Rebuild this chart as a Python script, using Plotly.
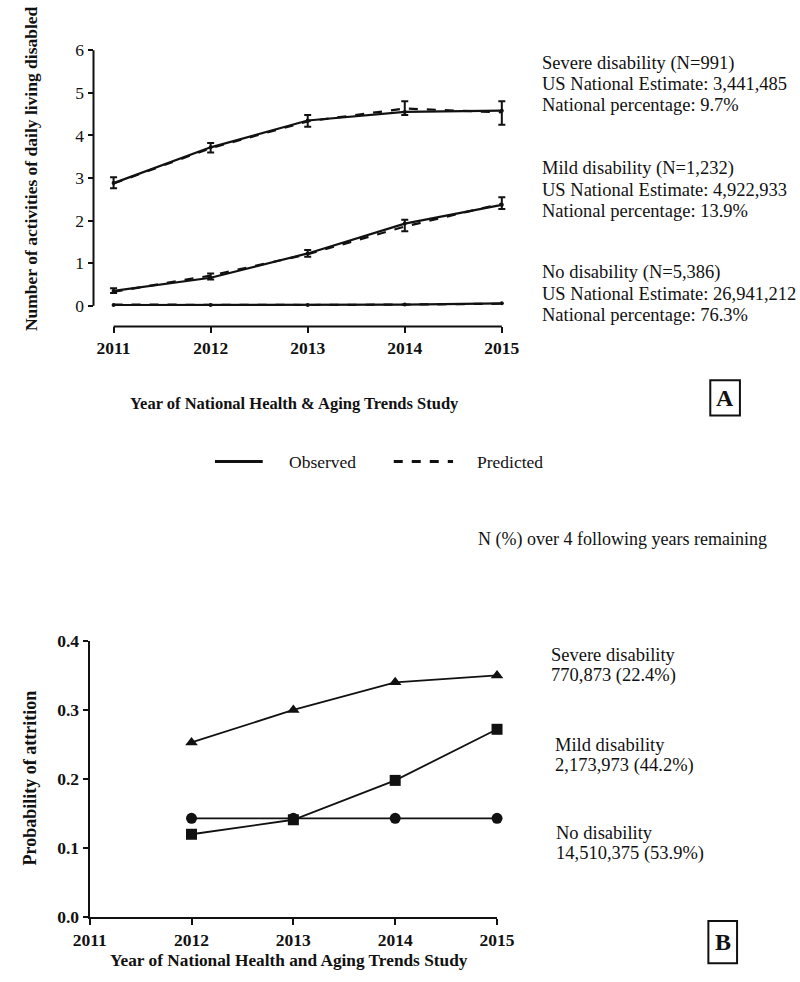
import plotly.graph_objects as go

W, H = 800, 982

# ---------------- Data ----------------
years_a = [2011, 2012, 2013, 2014, 2015]
severe_obs = [2.88, 3.72, 4.35, 4.55, 4.58]
severe_pred = [2.87, 3.70, 4.33, 4.63, 4.54]
severe_upper = [3.02, 3.82, 4.48, 4.80, 4.80]
severe_lower = [2.76, 3.60, 4.20, 4.48, 4.25]
mild_obs = [0.35, 0.66, 1.23, 1.93, 2.37]
mild_pred = [0.33, 0.71, 1.21, 1.86, 2.40]
mild_upper = [0.41, 0.76, 1.31, 2.02, 2.55]
mild_lower = [0.30, 0.62, 1.15, 1.75, 2.27]
none_obs = [0.02, 0.02, 0.02, 0.03, 0.06]
none_pred = [0.03, 0.02, 0.02, 0.03, 0.05]

years_b = [2012, 2013, 2014, 2015]
attr_severe = [0.253, 0.300, 0.340, 0.350]
attr_mild = [0.120, 0.141, 0.198, 0.272]
attr_none = [0.143, 0.143, 0.143, 0.143]

xticks_a = [2011, 2012, 2013, 2014, 2015]
yticks_a = [0, 1, 2, 3, 4, 5, 6]
xticks_b = [2011, 2012, 2013, 2014, 2015]
yticks_b = [0.0, 0.1, 0.2, 0.3, 0.4]

top_notes = [
    ["Severe disability (N=991)", "US National Estimate: 3,441,485", "National percentage: 9.7%"],
    ["Mild disability (N=1,232)", "US National Estimate: 4,922,933", "National percentage: 13.9%"],
    ["No disability (N=5,386)", "US National Estimate: 26,941,212", "National percentage: 76.3%"],
]
bottom_notes = [
    ["Severe disability", "770,873 (22.4%)"],
    ["Mild disability", "2,173,973 (44.2%)"],
    ["No disability", "14,510,375 (53.9%)"],
]

SERIF = "Liberation Serif, Times New Roman, serif"
BLACK = "#111111"


def px(x):
    return x / W


def py(y):
    return 1 - y / H


# ---------------- Geometry ----------------
a_left, a_right = 80, 520
a_x2011, a_x2015 = 101, 507
a_ppy = (a_x2015 - a_x2011) / 4.0
a_y0, a_y6 = 302, 41
a_ppu = (a_y0 - a_y6) / 6.0
a_bottom = 323
a_xrange = [2011 - (a_x2011 - a_left) / a_ppy, 2015 + (a_right - a_x2015) / a_ppy]
a_top_val = 6.02
a_yrange = [-(a_bottom - a_y0) / a_ppu, a_top_val]
a_top_px = a_y0 - a_top_val * a_ppu

b_left, b_right = 76, 502
b_top, b_bottom = 644, 926

fig = go.Figure()


def errs(obs, up, lo):
    return [u - o for u, o in zip(up, obs)], [o - l for o, l in zip(obs, lo)]


groups = [
    (severe_obs, severe_pred, severe_upper, severe_lower),
    (mild_obs, mild_pred, mild_upper, mild_lower),
    (none_obs, none_pred, None, None),
]
for obs, pred, up, lo in groups:
    fig.add_trace(go.Scatter(
        x=years_a, y=pred, mode="lines", xaxis="x", yaxis="y",
        line=dict(color=BLACK, width=2.2, dash="dash"), showlegend=False))
    tr = dict(x=years_a, y=obs, mode="lines+markers", xaxis="x", yaxis="y",
              line=dict(color=BLACK, width=2.2),
              marker=dict(color=BLACK, size=4), showlegend=False)
    if up is not None:
        p, m = errs(obs, up, lo)
        tr["error_y"] = dict(type="data", symmetric=False, array=p, arrayminus=m,
                             color=BLACK, thickness=2, width=3.5)
    fig.add_trace(go.Scatter(**tr))

for vals, sym, sz in [(attr_severe, "triangle-up", 11), (attr_mild, "square", 11),
                      (attr_none, "circle", 11)]:
    fig.add_trace(go.Scatter(
        x=years_b, y=vals, mode="lines+markers", xaxis="x2", yaxis="y2",
        line=dict(color=BLACK, width=1.8),
        marker=dict(color=BLACK, size=sz, symbol=sym),
        cliponaxis=False, showlegend=False))

fig.update_layout(
    width=W, height=H,
    margin=dict(l=0, r=0, t=0, b=0),
    paper_bgcolor="white", plot_bgcolor="white",
    showlegend=False,
    font=dict(family=SERIF, color=BLACK),
    xaxis=dict(domain=[px(a_left), px(a_right)], range=a_xrange, anchor="y",
               tickvals=xticks_a, ticktext=[str(v) for v in xticks_a],
               ticks="outside", ticklen=6, tickwidth=2, tickcolor=BLACK,
               showline=False, showgrid=False, zeroline=False,
               tickfont=dict(family=SERIF, size=17.5, color=BLACK, weight="bold")),
    yaxis=dict(domain=[py(a_bottom), py(a_top_px)], range=a_yrange, anchor="x",
               tickvals=yticks_a, ticks="outside", ticklen=5, tickwidth=2,
               tickcolor=BLACK, showline=False, showgrid=False, zeroline=False,
               tickfont=dict(family=SERIF, size=17.5, color=BLACK)),
    xaxis2=dict(domain=[px(b_left), px(b_right)], range=[2011, 2015], anchor="y2",
                tickvals=xticks_b, ticktext=[str(v) for v in xticks_b],
                ticks="outside", ticklen=6, tickwidth=2, tickcolor=BLACK,
                showline=True, linecolor=BLACK, linewidth=2.2,
                showgrid=False, zeroline=False,
                tickfont=dict(family=SERIF, size=17.5, color=BLACK, weight="bold")),
    yaxis2=dict(domain=[py(b_bottom), py(b_top)], range=[0, 0.4], anchor="x2",
                tickvals=yticks_b, ticktext=["%.1f" % v for v in yticks_b],
                ticks="outside", ticklen=5, tickwidth=2, tickcolor=BLACK,
                showline=True, linecolor=BLACK, linewidth=2.2,
                showgrid=False, zeroline=False,
                tickfont=dict(family=SERIF, size=17.5, color=BLACK, weight="bold")),
)

shapes = []
# Panel A offset axis lines (GraphPad style)
shapes.append(dict(type="line", xref="paper", yref="y", x0=px(a_left), x1=px(a_left),
                   y0=0, y1=6, line=dict(color=BLACK, width=2)))
shapes.append(dict(type="line", xref="x", yref="paper", x0=2011, x1=2015,
                   y0=py(a_bottom), y1=py(a_bottom), line=dict(color=BLACK, width=2)))
# Legend samples
shapes.append(dict(type="line", xref="paper", yref="paper", x0=px(207), x1=px(257),
                   y0=py(461), y1=py(461), line=dict(color=BLACK, width=3)))
shapes.append(dict(type="line", xref="paper", yref="paper", x0=px(394), x1=px(456),
                   y0=py(461), y1=py(461), line=dict(color=BLACK, width=3, dash="dash")))
# Panel label boxes
shapes.append(dict(type="rect", xref="paper", yref="paper", x0=px(725), x1=px(756),
                   y0=py(414), y1=py(378), line=dict(color=BLACK, width=2)))
shapes.append(dict(type="rect", xref="paper", yref="paper", x0=px(723), x1=px(753),
                   y0=py(973), y1=py(930), line=dict(color=BLACK, width=2)))
fig.update_layout(shapes=shapes)

ann = []


def text(x, y, s, size=18.5, bold=False, xanchor="left", angle=0):
    ann.append(dict(x=px(x), y=py(y), xref="paper", yref="paper", text=s,
                    showarrow=False, xanchor=xanchor, yanchor="middle",
                    textangle=angle,
                    font=dict(family=SERIF, size=size, color=BLACK,
                              weight="bold" if bold else "normal")))


# Axis titles
text(14, 162, "Number of activities of daily living disabled", 17.5, True, "center", -90)
text(290, 402, "Year of National Health &amp; Aging Trends Study", 16.5, True, "center")
text(14, 784, "Probability of attrition", 18, True, "center", -90)
text(284, 970, "Year of National Health and Aging Trends Study", 17.3, True, "center")

# Legend texts
text(282, 461, "Observed", 17.5)
text(479, 461, "Predicted", 17.5)

# Panel labels
text(740.5, 396, "A", 24, True, "center")
text(738, 951, "B", 24, True, "center")

# Right-hand notes, panel A
top_y = [[55, 76, 97], [162, 184, 205], [268, 290, 311]]
for lines, ys in zip(top_notes, top_y):
    for s, y in zip(lines, ys):
        text(547, y, s, 18.5)

text(480, 541, "N (%) over 4 following years remaining", 18)

# Right-hand notes, panel B
bot_pos = [(556, [658, 679]), (561, [750, 771]), (562, [840, 861])]
for lines, (x, ys) in zip(bottom_notes, bot_pos):
    for s, y in zip(lines, ys):
        text(x, y, s, 18.5)

fig.update_layout(annotations=ann)

fig.write_html("out.html", config={"displayModeBar": False},
               post_script="document.body.style.margin='0';document.body.style.padding='0';")
